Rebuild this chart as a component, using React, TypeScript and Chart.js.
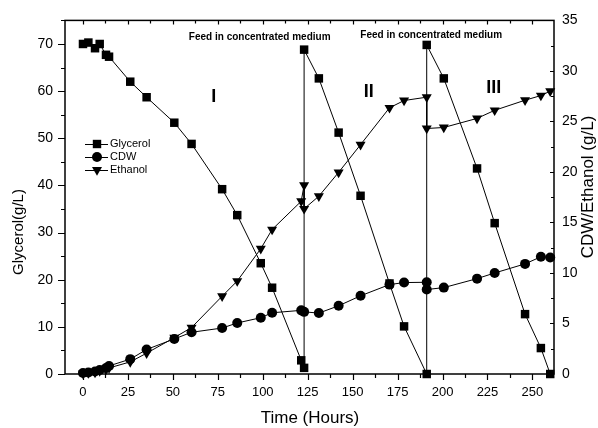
import { useEffect, useRef } from 'react';
import { Chart, registerables } from 'chart.js';

Chart.register(...registerables);

const FONT = 'Liberation Sans, Arial, sans-serif';

const glycerolTime = [0, 3, 6.7, 9.3, 12.8, 14.5, 26.3, 35.4, 50.8, 60.4, 77.4, 85.8, 98.9, 105.2, 121.4, 123, 123, 131.2, 142.2, 154.4, 170.5, 178.6, 191.2, 191.2, 200.7, 219.2, 229, 245.9, 254.7, 259.9];
const glycerolValues = [70.0, 70.3, 69.1, 70.0, 67.7, 67.3, 62.0, 58.7, 53.3, 48.8, 39.2, 33.7, 23.5, 18.3, 2.9, 1.3, 68.8, 62.7, 51.2, 37.8, 19.2, 10.1, 0, 69.8, 62.7, 43.6, 32, 12.7, 5.5, 0];

const cdwTime = [0, 3, 6.7, 9.3, 12.8, 14.5, 26.3, 35.4, 50.8, 60.4, 77.4, 85.8, 98.9, 105.2, 121.4, 123, 131.2, 142.2, 154.4, 170.5, 178.6, 191.2, 191.2, 200.7, 219.2, 229, 245.9, 254.7, 259.9];
const cdwValues = [0.1, 0.15, 0.25, 0.4, 0.6, 0.8, 1.47, 2.43, 3.47, 4.13, 4.55, 5.05, 5.57, 6.06, 6.3, 6.15, 6.03, 6.75, 7.74, 8.85, 9.05, 9.08, 8.36, 8.55, 9.44, 10.0, 10.9, 11.6, 11.53];

const ethanolTime = [0, 3, 6.7, 9.3, 12.8, 14.5, 26.3, 35.4, 50.8, 60.4, 77.4, 85.8, 98.9, 105.2, 121.4, 123, 123, 131.2, 142.2, 154.4, 170.5, 178.6, 191.2, 191.2, 200.7, 219.2, 229, 245.9, 254.7, 259.9];
const ethanolValues = [0.05, 0.1, 0.15, 0.3, 0.45, 0.6, 1.2, 2.06, 3.6, 4.6, 7.7, 9.2, 12.4, 14.3, 17.1, 18.7, 16.35, 17.6, 19.96, 22.7, 26.35, 27.07, 27.4, 24.3, 24.4, 25.3, 26.1, 27.1, 27.56, 28.0];

const xTickLabels = [0, 25, 50, 75, 100, 125, 150, 175, 200, 225, 250];
const leftTickLabels = [0, 10, 20, 30, 40, 50, 60, 70];
const rightTickLabels = [0, 5, 10, 15, 20, 25, 30, 35];
const seriesNames = ['Glycerol', 'CDW', 'Ethanol'];
const feedText = 'Feed in concentrated medium';
const phaseText = ['I', 'II', 'III'];

function toPoints(xs: number[], ys: number[]) {
  return xs.map((x, i) => ({ x, y: ys[i] }));
}

function drawMarker(ctx: CanvasRenderingContext2D, kind: string, x: number, y: number) {
  ctx.beginPath();
  if (kind === 'rect') {
    const s = 4.2;
    ctx.rect(x - s, y - s, 2 * s, 2 * s);
  } else if (kind === 'circle') {
    ctx.arc(x, y, 5, 0, Math.PI * 2);
  } else {
    const r = 5.8;
    ctx.moveTo(x, y + r);
    ctx.lineTo(x - r * 0.866, y - r * 0.5);
    ctx.lineTo(x + r * 0.866, y - r * 0.5);
    ctx.closePath();
  }
  ctx.fill();
}

const decorPlugin = {
  id: 'decor',
  afterDraw(chart: any) {
    const ctx: CanvasRenderingContext2D = chart.ctx;
    const { left, right, top, bottom } = chart.chartArea;
    const xs = chart.scales.x;
    const yl = chart.scales.y;
    const yr = chart.scales.y1;
    ctx.save();
    ctx.strokeStyle = '#000';
    ctx.fillStyle = '#000';
    ctx.lineWidth = 1.5;
    ctx.strokeRect(left, top, right - left, bottom - top);

    ctx.lineWidth = 1.2;
    ctx.beginPath();
    for (let v = 0; v <= 262; v += 12.5) {
      const px = Math.round(xs.getPixelForValue(v)) + 0.5;
      const major = v % 25 === 0;
      ctx.moveTo(px, bottom);
      ctx.lineTo(px, bottom + (major ? 6 : 4));
      ctx.moveTo(px, top);
      ctx.lineTo(px, top + (major ? 4 : 3));
    }
    for (let v = 0; v <= 75; v += 5) {
      const py = Math.round(yl.getPixelForValue(v)) + 0.5;
      const major = v % 10 === 0;
      ctx.moveTo(left, py);
      ctx.lineTo(left - (major ? 7 : 4), py);
    }
    for (let v = 0; v <= 35; v += 2.5) {
      const py = Math.round(yr.getPixelForValue(v)) + 0.5;
      const major = v % 5 === 0;
      ctx.moveTo(right, py);
      ctx.lineTo(right - (major ? 4 : 3), py);
    }
    ctx.stroke();

    // axis titles
    ctx.textAlign = 'center';
    ctx.textBaseline = 'middle';
    ctx.font = `17px ${FONT}`;
    ctx.fillText('Time (Hours)', 310, 418);
    ctx.save();
    ctx.translate(19, 232);
    ctx.rotate(-Math.PI / 2);
    ctx.font = `15px ${FONT}`;
    ctx.fillText('Glycerol(g/L)', 0, 0);
    ctx.restore();
    ctx.save();
    ctx.translate(588, 187);
    ctx.rotate(-Math.PI / 2);
    ctx.font = `17px ${FONT}`;
    ctx.fillText('CDW/Ethanol (g/L)', 0, 0);
    ctx.restore();

    // annotations
    ctx.font = `bold 10px ${FONT}`;
    ctx.fillText(feedText, xs.getPixelForValue(98.3), yl.getPixelForValue(71.4));
    ctx.fillText(feedText, xs.getPixelForValue(193.7), yl.getPixelForValue(71.8));
    ctx.font = `bold 18px ${FONT}`;
    ctx.fillText(phaseText[0], xs.getPixelForValue(72.7), yl.getPixelForValue(58.8));
    ctx.fillText(phaseText[1], xs.getPixelForValue(159), yl.getPixelForValue(59.8));
    ctx.fillText(phaseText[2], xs.getPixelForValue(228.5), yl.getPixelForValue(60.7));

    // legend
    const kinds = ['rect', 'circle', 'triangle'];
    const ys = [144, 157, 170];
    ctx.font = `11px ${FONT}`;
    ctx.textAlign = 'left';
    ctx.lineWidth = 1;
    for (let i = 0; i < 3; i++) {
      ctx.beginPath();
      ctx.moveTo(85, ys[i] + 0.5);
      ctx.lineTo(108, ys[i] + 0.5);
      ctx.stroke();
      drawMarker(ctx, kinds[i], 97, ys[i]);
      ctx.fillText(seriesNames[i], 110, ys[i]);
    }
    ctx.restore();
  },
};

export default function App() {
  const ref = useRef<HTMLCanvasElement | null>(null);
  useEffect(() => {
    if (!ref.current) return;
    const tickFont = { family: FONT, size: 13 };
    const chart = new Chart(ref.current, {
      type: 'line',
      data: {
        datasets: [
          {
            label: seriesNames[0],
            data: toPoints(glycerolTime, glycerolValues),
            yAxisID: 'y',
            borderColor: '#000',
            backgroundColor: '#000',
            borderWidth: 1,
            pointStyle: 'rect',
            pointRadius: 6,
            pointBorderWidth: 0,
            tension: 0,
            clip: false as any,
          },
          {
            label: seriesNames[1],
            data: toPoints(cdwTime, cdwValues),
            yAxisID: 'y1',
            borderColor: '#000',
            backgroundColor: '#000',
            borderWidth: 1,
            pointStyle: 'circle',
            pointRadius: 5,
            pointBorderWidth: 0,
            tension: 0,
            clip: false as any,
          },
          {
            label: seriesNames[2],
            data: toPoints(ethanolTime, ethanolValues),
            yAxisID: 'y1',
            borderColor: '#000',
            backgroundColor: '#000',
            borderWidth: 1,
            pointStyle: 'triangle',
            pointRotation: 180,
            pointRadius: 5.8,
            pointBorderWidth: 0,
            tension: 0,
            clip: false as any,
          },
        ],
      },
      options: {
        responsive: false,
        animation: false,
        layout: { padding: { top: 18, left: 0, right: 0, bottom: 0 } },
        plugins: { legend: { display: false }, tooltip: { enabled: false } },
        scales: {
          x: {
            type: 'linear',
            min: -10,
            max: 262,
            grid: { display: false, drawTicks: false },
            border: { display: false },
            afterBuildTicks: (s: any) => {
              s.ticks = xTickLabels.map((v) => ({ value: v }));
            },
            afterFit: (s: any) => {
              s.height = 54;
            },
            ticks: { font: tickFont, color: '#000', padding: 11, maxRotation: 0, autoSkip: false },
          },
          y: {
            type: 'linear',
            position: 'left',
            min: 0,
            max: 75,
            grid: { display: false, drawTicks: false },
            border: { display: false },
            afterBuildTicks: (s: any) => {
              s.ticks = leftTickLabels.map((v) => ({ value: v }));
            },
            afterFit: (s: any) => {
              s.width = 65;
            },
            ticks: { font: { family: FONT, size: 14 }, color: '#000', padding: 12, autoSkip: false },
          },
          y1: {
            type: 'linear',
            position: 'right',
            min: 0,
            max: 35,
            grid: { display: false, drawTicks: false },
            border: { display: false },
            afterBuildTicks: (s: any) => {
              s.ticks = rightTickLabels.map((v) => ({ value: v }));
            },
            afterFit: (s: any) => {
              s.width = 44;
            },
            ticks: { font: { family: FONT, size: 14 }, color: '#000', padding: 8, autoSkip: false },
          },
        },
      } as any,
      plugins: [decorPlugin],
    });
    return () => chart.destroy();
  }, []);
  return (
    <div style={{ position: 'fixed', left: 0, top: 0, width: 598, height: 428, background: '#fff' }}>
      <canvas ref={ref} width={598} height={428} style={{ display: 'block' }} />
    </div>
  );
}
